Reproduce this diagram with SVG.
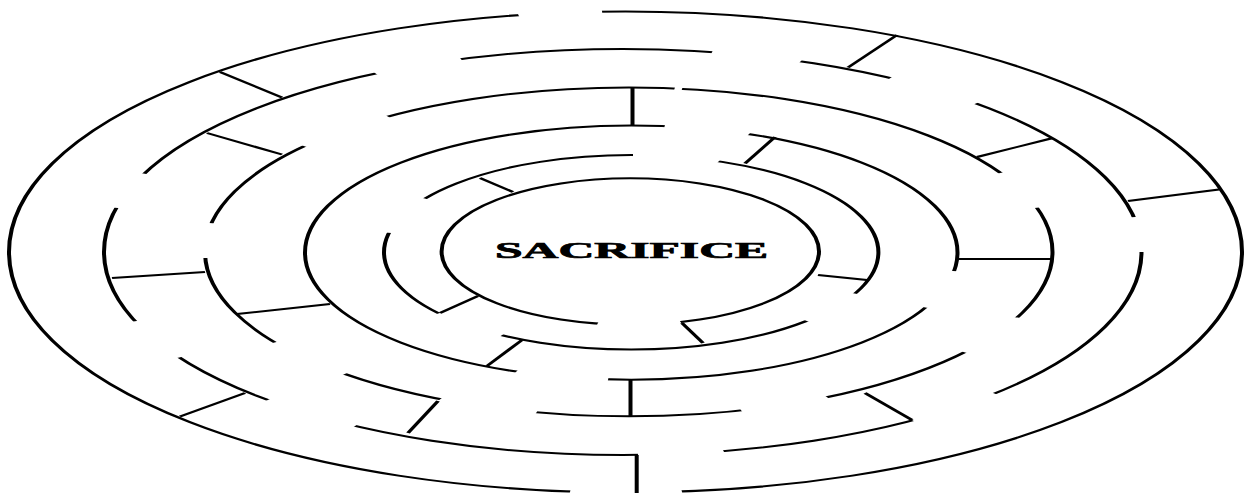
<svg xmlns="http://www.w3.org/2000/svg" width="1247" height="493" viewBox="0 0 1247 493">
<style>
.ring{fill:none;stroke:#000;stroke-width:2}
.wall{fill:none;stroke:#000;stroke-width:2;stroke-linecap:butt}
.cut{fill:#000}
.keep{fill:#fff}
.label{font-family:"Liberation Serif","Times New Roman",serif;font-weight:bold;font-size:22.7px;fill:#000;stroke:#000;stroke-width:0.7}
</style>
<defs>
<mask id="m1" maskUnits="userSpaceOnUse" x="-300" y="-400" width="1300" height="1300">
<rect class="keep" x="-300" y="-400" width="1300" height="1300"/>
<polygon class="cut" points="312.75,252 205.25,-224 289.25,-230"/>
<polygon class="cut" points="312.75,252 257.25,732 369.25,732"/>
</mask>
<mask id="m2" maskUnits="userSpaceOnUse" x="-300" y="-400" width="1300" height="1300">
<rect class="keep" x="-300" y="-400" width="1300" height="1300"/>
<polygon class="cut" points="311.375,252 401.625,-152 488.625,-128"/>
<polygon class="cut" points="311.375,252 580.625,-98 665.625,-46"/>
<polygon class="cut" points="311.375,252 823.625,182 828.625,252"/>
<polygon class="cut" points="311.375,252 681.625,534 600.625,588"/>
<polygon class="cut" points="311.375,252 411.625,648 326.625,658"/>
<polygon class="cut" points="311.375,252 43.625,600 -41.375,546"/>
<polygon class="cut" points="311.375,252 -134.375,464 -174.375,390"/>
<polygon class="cut" points="311.375,252 -194.375,164 -171.375,94"/>
<polygon class="cut" points="311.375,252 63.625,-106 148.625,-136"/>
</mask>
<mask id="m3" maskUnits="userSpaceOnUse" x="-300" y="-400" width="1300" height="1300">
<rect class="keep" x="-300" y="-400" width="1300" height="1300"/>
<polygon class="cut" points="314.375,251.9 360.625,-77.9 367.625,-73.9"/>
<polygon class="cut" points="314.375,251.9 685.625,94.1 720.625,164.1"/>
<polygon class="cut" points="314.375,251.9 705.625,384.1 655.625,456.1"/>
<polygon class="cut" points="314.375,251.9 513.625,544.1 428.625,574.1"/>
<polygon class="cut" points="314.375,251.9 220.625,578.1 123.625,550.1"/>
<polygon class="cut" points="314.375,251.9 25.625,500.1 -41.375,434.1"/>
<polygon class="cut" points="314.375,251.9 -111.375,264.1 -104.375,194.1"/>
<polygon class="cut" points="314.375,251.9 -7.375,42.1 72.625,-19.9"/>
</mask>
<mask id="m4" maskUnits="userSpaceOnUse" x="-300" y="-400" width="1300" height="1300">
<rect class="keep" x="-300" y="-400" width="1300" height="1300"/>
<polygon class="cut" points="315.625,252.6 349.375,-2.6 434.375,13.4"/>
<polygon class="cut" points="315.625,252.6 612.375,363.4 637.375,289.4"/>
<polygon class="cut" points="315.625,252.6 201.375,489.4 292.375,507.4"/>
</mask>
<mask id="m5" maskUnits="userSpaceOnUse" x="-300" y="-400" width="1300" height="1300">
<rect class="keep" x="-300" y="-400" width="1300" height="1300"/>
<polygon class="cut" points="315.6,252.3 317.4,57.7 402.4,71.7"/>
<polygon class="cut" points="315.6,252.3 107.4,143.7 74.4,213.7"/>
<polygon class="cut" points="315.6,252.3 124.4,373.7 186.4,417.7"/>
<polygon class="cut" points="315.6,252.3 491.4,389.7 536.4,333.7"/>
</mask>
<mask id="m6" maskUnits="userSpaceOnUse" x="-300" y="-400" width="1300" height="1300">
<rect class="keep" x="-300" y="-400" width="1300" height="1300"/>
<polygon class="cut" points="315.15,251.5 281.85,398.5 366.85,396.5"/>
</mask>
</defs>
<rect width="1247" height="493" fill="#fff"/>
<g transform="scale(2,1)">
<g id="ring1"><ellipse class="ring" cx="312.75" cy="252" rx="308.25" ry="240.5" mask="url(#m1)"/></g>
<g id="ring2"><ellipse class="ring" cx="311.375" cy="252" rx="259.375" ry="203" mask="url(#m2)"/></g>
<g id="ring3"><ellipse class="ring" cx="314.375" cy="251.9" rx="211.875" ry="164.4" mask="url(#m3)"/></g>
<g id="ring4"><ellipse class="ring" cx="315.625" cy="252.6" rx="163.125" ry="127.1" mask="url(#m4)"/></g>
<g id="ring5"><ellipse class="ring" cx="315.6" cy="252.3" rx="123.6" ry="97.3" mask="url(#m5)"/></g>
<g id="ring6"><ellipse class="ring" cx="315.15" cy="251.5" rx="94.35" ry="73.2" mask="url(#m6)"/></g>
<g id="walls">
<line class="wall" x1="110" y1="72" x2="141" y2="97.5"/>
<line class="wall" x1="448.5" y1="35" x2="424" y2="67.5"/>
<line class="wall" x1="609.5" y1="189.5" x2="564" y2="201"/>
<line class="wall" x1="90" y1="416.5" x2="122.5" y2="393"/>
<line class="wall" x1="318.35" y1="455" x2="318.35" y2="495"/>
<line class="wall" x1="432.5" y1="393" x2="456" y2="420"/>
<line class="wall" x1="103.5" y1="133" x2="141" y2="154.5"/>
<line class="wall" x1="56" y1="278" x2="102.5" y2="272"/>
<line class="wall" x1="219" y1="401" x2="204" y2="433"/>
<line class="wall" x1="488.5" y1="157" x2="526.5" y2="138"/>
<line class="wall" x1="118.5" y1="314" x2="165" y2="304"/>
<line class="wall" x1="316.25" y1="87.5" x2="316.25" y2="125.5"/>
<line class="wall" x1="315.25" y1="379.7" x2="315.25" y2="416.3"/>
<line class="wall" x1="478.5" y1="259" x2="526" y2="259"/>
<line class="wall" x1="387.5" y1="137" x2="372.5" y2="163.5"/>
<line class="wall" x1="243.5" y1="366" x2="261" y2="340"/>
<line class="wall" x1="240" y1="178" x2="256.5" y2="192"/>
<line class="wall" x1="220" y1="313" x2="239" y2="296"/>
<line class="wall" x1="341" y1="323" x2="351.5" y2="343"/>
<line class="wall" x1="409" y1="275" x2="433.5" y2="280"/>
</g>
<g id="center"><text class="label" x="247.5" y="258.5" textLength="136.6" lengthAdjust="spacingAndGlyphs">SACRIFICE</text></g>
</g>
</svg>
